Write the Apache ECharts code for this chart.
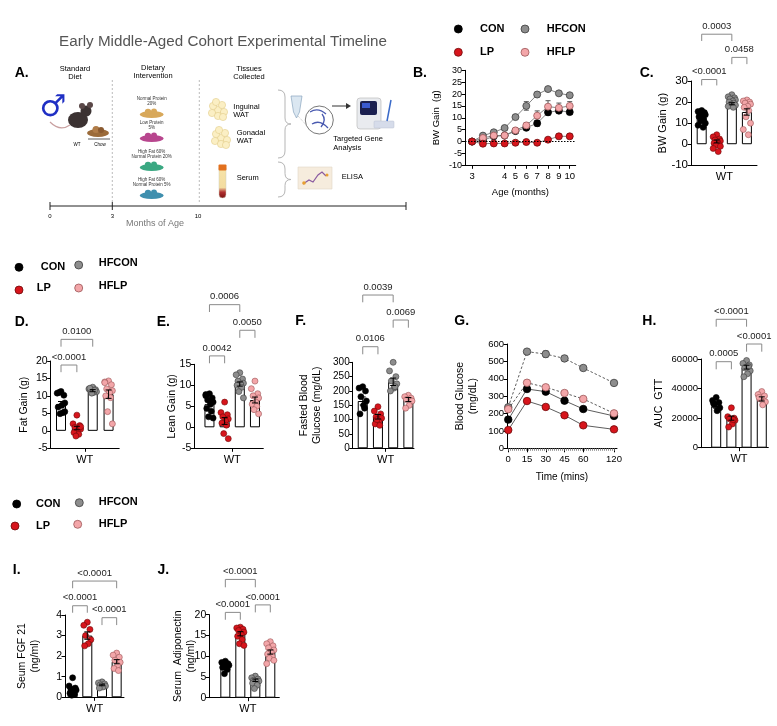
<!DOCTYPE html>
<html><head><meta charset="utf-8">
<script src="https://cdn.jsdelivr.net/npm/echarts@6/dist/echarts.min.js"></script>
<style>html,body{margin:0;padding:0;background:#fff}#c{width:777px;height:726px}</style>
</head><body><div id="c"></div>
<script>
// ---------------- DATA ----------------
const groups = ['CON', 'LP', 'HFCON', 'HFLP'];

// B: body weight gain over age
const bTickLabels = ['3', '', '', '4', '5', '6', '7', '8', '9', '10'];
const bCON   = [0, 0.5, 2.2, 2.5, 4.4, 5.8, 7.7, 12.3, 13.0, 12.4];
const bLP    = [0, -0.9, -0.8, -0.8, -0.5, -0.2, -0.5, 0.8, 2.2, 2.2];
const bHFCON = [0, 2.5, 3.9, 5.7, 10.3, 15.0, 19.8, 22.1, 20.3, 19.5];
const bHFLP  = [0, 1.5, 2.5, 2.6, 4.7, 6.8, 10.9, 14.7, 14.2, 15.0];
const bErrCON   = [0, 0.5, 0.5, 0.5, 0.6, 0.7, 1.2, 1.2, 0.8, 1.0];
const bErrLP    = [0, 0.5, 0.4, 0.4, 0.4, 0.4, 0.5, 0.6, 1.0, 1.0];
const bErrHFCON = [0, 0.5, 0.6, 0.6, 0.9, 1.8, 1.0, 0.7, 0.7, 0.8];
const bErrHFLP  = [0, 0.5, 0.5, 0.6, 0.7, 1.0, 2.0, 2.5, 2.0, 1.8];

// C: BW gain
const cCON   = [16.0, 15.5, 15.0, 14.5, 14.0, 13.5, 13.0, 12.0, 11.0, 10.0, 9.0, 8.0];
const cLP    = [4.5, 3.5, 2.5, 2.0, 1.5, 1.0, 0.5, 0.0, -0.5, -1.0, -2.0, -3.5];
const cHFCON = [23.5, 22.5, 22.0, 21.5, 21.0, 20.5, 20.0, 19.5, 19.0, 18.5, 18.0, 17.5];
const cHFLP  = [21.0, 20.5, 20.0, 19.5, 19.0, 18.0, 17.5, 16.0, 13.0, 10.0, 7.0, 4.5];
const cMean = [12.5, 1.3, 19.2, 15.3];
const cSem  = [0.8, 0.7, 0.5, 1.5];
const cSig  = [[0, 1, 30.7, 27.9], [0, 2, 52.2, 49.0], [2, 3, 41.2, 38.0]];
const cSigLabels = ['<0.0001', '0.0003', '0.0458'];

// D: fat gain
const dCON   = [11.3, 10.8, 10.2, 11.0, 8.0, 7.3, 6.8, 5.2, 4.9, 5.5];
const dLP    = [4.5, 2.0, 1.5, 1.0, 0.5, 0.0, -0.5, -1.0, -1.5, 1.2];
const dHFCON = [12.5, 12.0, 11.8, 11.5, 11.2, 11.0, 12.2, 11.6, 10.8];
const dHFLP  = [14.3, 14.0, 13.2, 12.0, 11.5, 11.0, 10.0, 9.5, 5.5, 2.0, 13.8];
const dMean = [7.6, 0.8, 11.5, 10.5];
const dSem  = [0.8, 0.5, 0.3, 1.2];
const dSig  = [[0, 1, 18.85, 16.8], [0, 2, 26.2, 24.1]];
const dSigLabels = ['<0.0001', '0.0100'];

// E: lean gain
const eCON   = [8.0, 7.5, 7.0, 6.5, 6.0, 5.5, 4.5, 3.8, 2.5, 2.2, 7.8];
const eLP    = [6.0, 3.5, 3.0, 2.5, 2.0, 1.5, 1.0, 0.5, -1.5, -2.7];
const eHFCON = [13.0, 12.5, 11.5, 11.0, 10.5, 10.3, 10.0, 9.5, 8.5, 7.0];
const eHFLP  = [11.0, 9.2, 8.0, 7.5, 7.0, 6.0, 5.5, 5.0, 4.2, 3.2];
const eMean = [5.5, 1.5, 10.3, 6.5];
const eSem  = [0.6, 0.8, 0.5, 0.7];
const eSig  = [[0, 1, 17.0, 15.24], [0, 2, 29.2, 27.45], [2, 3, 23.1, 21.3]];
const eSigLabels = ['0.0042', '0.0006', '0.0050'];

// F: fasted blood glucose
const fCON   = [215, 210, 200, 180, 165, 150, 120, 140];
const fLP    = [145, 130, 120, 110, 105, 95, 85, 80, 100];
const fHFCON = [300, 270, 250, 235, 225, 210, 200, 215];
const fHFLP  = [185, 180, 175, 170, 165, 150, 140];
const fMean = [165, 110, 232, 170];
const fSem  = [14, 8, 13, 7];
const fSig  = [[0, 1, 354.4, 327.9], [0, 2, 534.7, 509.3], [2, 3, 447.5, 420.7]];
const fSigLabels = ['0.0106', '0.0039', '0.0069'];

// G: GTT
const gTimes = [0, 15, 30, 45, 60, 120];
const gCON   = [165, 341, 326, 274, 226, 186];
const gLP    = [105, 272, 238, 190, 132, 109];
const gHFCON = [236, 556, 542, 517, 462, 376];
const gHFLP  = [225, 377, 351, 318, 284, 201];
const gErrCON   = [10, 8, 10, 15, 6, 6];
const gErrLP    = [6, 10, 8, 12, 8, 5];
const gErrHFCON = [12, 10, 18, 15, 10, 12];
const gErrHFLP  = [8, 6, 8, 10, 10, 6];

// H: AUC GTT
const hCON   = [34000, 32000, 30500, 29000, 27000, 25000, 30000];
const hLP    = [27000, 21000, 20000, 19500, 18500, 16000, 14000, 19000];
const hHFCON = [59000, 57000, 56000, 54000, 52000, 50000, 48000, 55000];
const hHFLP  = [38000, 36000, 35000, 33000, 31000, 29000, 34000];
const hMean = [28000, 20000, 54500, 33000];
const hSem  = [1300, 1400, 1300, 1400];
const hSig  = [[0, 1, 58174, 53033], [0, 2, 86853, 81848], [2, 3, 70146, 64938]];
const hSigLabels = ['0.0005', '<0.0001', '<0.0001'];

// I: serum FGF21
const iCON   = [0.95, 0.55, 0.45, 0.4, 0.35, 0.3, 0.2, 0.15, 0.1];
const iLP    = [3.65, 3.5, 3.3, 3.0, 2.8, 2.6, 2.5];
const iHFCON = [0.75, 0.7, 0.65, 0.6, 0.55, 0.5, 0.45];
const iHFLP  = [2.15, 2.05, 1.95, 1.8, 1.7, 1.55, 1.4, 1.3];
const iMean = [0.36, 3.0, 0.6, 1.73];
const iSem  = [0.08, 0.18, 0.04, 0.1];
const iSig  = [[0, 1, 4.45, 4.11], [0, 3, 5.65, 5.30], [2, 3, 3.87, 3.51]];
const iSigLabels = ['<0.0001', '<0.0001', '<0.0001'];

// J: serum adiponectin
const jCON   = [8.8, 8.5, 8.2, 8.0, 7.8, 7.6, 7.3, 6.8, 5.8];
const jLP    = [17.0, 16.8, 16.5, 16.2, 15.8, 15.3, 14.8, 14.0, 13.0, 12.6];
const jHFCON = [5.2, 4.8, 4.5, 4.2, 4.0, 3.8, 3.5, 3.0, 2.2];
const jHFLP  = [13.5, 13.0, 12.5, 12.0, 11.5, 11.0, 10.5, 10.0, 9.5, 9.0, 8.2];
const jMean = [7.9, 15.4, 4.2, 11.0];
const jSem  = [0.3, 0.5, 0.3, 0.5];
const jSig  = [[0, 1, 20.56, 18.78], [0, 2, 28.5, 26.6], [2, 3, 22.36, 20.56]];
const jSigLabels = ['<0.0001', '<0.0001', '<0.0001'];

// ---------------- STYLE / BUILD ----------------
const FF = "'Liberation Sans', Arial, Helvetica, sans-serif";
const fillC = ['#000000', '#d7151c', '#8d8d8d', '#f3a6a9'];
const strokeC = ['#000000', '#6e0a0a', '#3c3c3c', '#9a5557'];

const grids = [], xAxes = [], yAxes = [], series = [];

function addGrid(l, t, w, h) { grids.push({left: l, top: t, width: w, height: h}); return grids.length - 1; }

function yAx(gi, min, max, interval, name, gap, fs, nfs) {
  yAxes.push({type: 'value', gridIndex: gi, min, max, interval, name, nameLocation: 'middle', nameGap: gap,
    nameMoveOverlap: false,
    nameTextStyle: {fontFamily: FF, fontSize: nfs || 10.5, color: '#000', lineHeight: 13},
    axisLine: {show: true, onZero: false, lineStyle: {color: '#000', width: 1}},
    axisTick: {show: true, length: 3.5, lineStyle: {color: '#000', width: 1}},
    axisLabel: {fontFamily: FF, fontSize: fs, color: '#000', margin: 3, formatter: v => String(v)},
    splitLine: {show: false}});
}
function xBar(gi, min, max) {
  xAxes.push({type: 'value', gridIndex: gi, min, max,
    axisLine: {onZero: false, lineStyle: {color: '#000', width: 1}},
    axisTick: {customValues: [1.5], length: 3.5, lineStyle: {color: '#000'}},
    axisLabel: {customValues: [1.5], formatter: () => 'WT', fontFamily: FF, fontSize: 11, color: '#000', margin: 6},
    splitLine: {show: false}});
}

function errRender(color, cap) {
  return function (params, api) {
    const x = api.value(0);
    const lo = api.coord([x, api.value(1)]), hi = api.coord([x, api.value(2)]);
    const st = {stroke: color, lineWidth: 1};
    return {type: 'group', children: [
      {type: 'line', shape: {x1: lo[0], y1: lo[1], x2: hi[0], y2: hi[1]}, style: st},
      {type: 'line', shape: {x1: lo[0] - cap, y1: lo[1], x2: lo[0] + cap, y2: lo[1]}, style: st},
      {type: 'line', shape: {x1: hi[0] - cap, y1: hi[1], x2: hi[0] + cap, y2: hi[1]}, style: st}
    ]};
  };
}
function sigRender(labels) {
  return function (params, api) {
    const a = api.coord([api.value(0), api.value(2)]);
    const b = api.coord([api.value(1), api.value(2)]);
    const a2 = api.coord([api.value(0), api.value(3)]);
    const b2 = api.coord([api.value(1), api.value(3)]);
    return {type: 'group', children: [
      {type: 'polyline', shape: {points: [a2, a, b, b2]}, style: {stroke: '#8a8a8a', lineWidth: 1, fill: null}},
      {type: 'text', style: {text: labels[params.dataIndex], x: (a[0] + b[0]) / 2, y: a[1] - 3,
        align: 'center', verticalAlign: 'bottom', fontSize: 9.5, fontFamily: FF, fill: '#222'}}
    ]};
  };
}
// deterministic horizontal spread of dots inside each group (layout only)
const spreadPattern = [0, -2, 1.5, -1, 2, 0.5, -1.5, 1, -0.5, 2, -2, 0.8];
function jitter(i) { return spreadPattern[i % spreadPattern.length] * 0.12; }

function barPanel(gi, means, sems, pts, sig, sigLabels) {
  series.push({type: 'bar', xAxisIndex: gi, yAxisIndex: gi, barWidth: 10, silent: true, z: 1,
    data: means.map((m, i) => [i, m]),
    itemStyle: {color: '#fff', borderColor: '#000', borderWidth: 1}});
  pts.forEach((arr, k) => series.push({type: 'scatter', xAxisIndex: gi, yAxisIndex: gi, z: 2, silent: true,
    symbolSize: 6, data: arr.map((v, i) => [k + jitter(i), v]),
    itemStyle: {color: fillC[k], borderColor: strokeC[k], borderWidth: 0.6, opacity: 1}}));
  series.push({type: 'custom', xAxisIndex: gi, yAxisIndex: gi, z: 3, silent: true, clip: false,
    data: means.map((m, i) => [i, m - sems[i], m + sems[i]]), encode: {x: 0, y: [1, 2]},
    renderItem: errRender('#000', 3)});
  series.push({type: 'custom', xAxisIndex: gi, yAxisIndex: gi, z: 3, silent: true, clip: false,
    data: sig, encode: {x: [0, 1], y: [2, 3]}, renderItem: sigRender(sigLabels)});
}

function linePanel(gi, xs, sets, errs, dashed, size, lineCol) {
  sets.forEach((arr, k) => {
    series.push({type: 'line', xAxisIndex: gi, yAxisIndex: gi, silent: true, clip: false, z: 2 + (k === 1 ? 1 : 0),
      data: arr.map((v, i) => [xs[i], v]), symbol: 'circle', symbolSize: size,
      lineStyle: {color: lineCol, width: 0.8, type: dashed[k] ? [2.5, 2] : 'solid'},
      itemStyle: {color: fillC[k], borderColor: strokeC[k], borderWidth: 0.8}});
    series.push({type: 'custom', xAxisIndex: gi, yAxisIndex: gi, z: 1, silent: true, clip: false,
      data: arr.map((v, i) => [xs[i], v - errs[k][i], v + errs[k][i]]), encode: {x: 0, y: [1, 2]},
      renderItem: errRender(k === 0 ? '#000' : '#555', 2.5)});
  });
}

// ---- Panel B ----
let g = addGrid(465, 70.3, 110.7, 95);
xAxes.push({type: 'value', gridIndex: g, min: -0.65, max: 9.55, name: 'Age (months)', nameLocation: 'middle', nameGap: 22,
  nameMoveOverlap: false,
  nameTextStyle: {fontFamily: FF, fontSize: 9.5, color: '#000'},
  axisLine: {onZero: false, lineStyle: {color: '#000'}},
  axisTick: {customValues: [0, 3, 4, 5, 6, 7, 8, 9], length: 3.5, lineStyle: {color: '#000'}},
  axisLabel: {customValues: [0, 3, 4, 5, 6, 7, 8, 9], formatter: v => bTickLabels[Math.round(v)], fontFamily: FF, fontSize: 9.5, color: '#000', margin: 6},
  splitLine: {show: false}});
yAx(g, -10, 30, 5, 'BW Gain  (g)', 22, 9, 9.5);
const bIdx = bCON.map((v, i) => i);
linePanel(g, bIdx, [bCON, bLP, bHFCON, bHFLP], [bErrCON, bErrLP, bErrHFCON, bErrHFLP], [false, false, false, false], 7, '#666');
series.push({type: 'line', xAxisIndex: g, yAxisIndex: g, data: [], silent: true,
  markLine: {silent: true, symbol: 'none', label: {show: false}, data: [{yAxis: 0}],
    lineStyle: {color: '#000', type: [1.5, 1.5], width: 1}}});

// ---- Panel C ----
g = addGrid(691, 81, 66, 84.3);
xBar(g, -0.71, 3.67);
yAx(g, -10, 30, 10, 'BW Gain (g)', 22, 11.5, 11);
barPanel(g, cMean, cSem, [cCON, cLP, cHFCON, cHFLP], cSig, cSigLabels);

// ---- Panel D ----
g = addGrid(50.7, 361, 68.5, 87.3);
xBar(g, -0.65, 3.67);
yAx(g, -5, 20, 5, 'Fat Gain (g)', 20, 10.5);
barPanel(g, dMean, dSem, [dCON, dLP, dHFCON, dHFLP], dSig, dSigLabels);

// ---- Panel E ----
g = addGrid(194.3, 364.3, 69, 84);
xBar(g, -1.0, 3.55);
yAx(g, -5, 15, 5, 'Lean Gain (g)', 16, 10.5);
barPanel(g, eMean, eSem, [eCON, eLP, eHFCON, eHFLP], eSig, eSigLabels);

// ---- Panel F ----
g = addGrid(352.7, 362.3, 61.3, 86);
xBar(g, -0.66, 3.37);
yAx(g, 0, 300, 50, 'Fasted Blood\nGlucose (mg/dL)', 29, 10, 10.5);
barPanel(g, fMean, fSem, [fCON, fLP, fHFCON, fHFLP], fSig, fSigLabels);

// ---- Panel G ----
const gpos = t => (t <= 60 ? t : 60 + (t - 60) * 0.41);
const gInv = p => (p <= 60 ? Math.round(p) : Math.round(60 + (p - 60) / 0.41));
g = addGrid(507, 344, 110, 104.3);
const gTickPos = gTimes.map(gpos);
xAxes.push({type: 'value', gridIndex: g, min: -1, max: 87, name: 'Time (mins)', nameLocation: 'middle', nameGap: 24,
  nameMoveOverlap: false,
  nameTextStyle: {fontFamily: FF, fontSize: 10, color: '#000'},
  axisLine: {onZero: false, lineStyle: {color: '#000'}},
  axisTick: {customValues: gTickPos, length: 4, lineStyle: {color: '#000'}},
  axisLabel: {customValues: gTickPos, formatter: v => String(gInv(v)), fontFamily: FF, fontSize: 9.5, color: '#000', margin: 6},
  splitLine: {show: false}});
const gMinor = [];
for (let p = 0; p <= 85; p += 1.6) gMinor.push(p);
xAxes.push({type: 'value', gridIndex: g, min: -1, max: 87, position: 'bottom',
  axisLine: {show: false, onZero: false}, axisLabel: {show: false}, splitLine: {show: false},
  axisTick: {show: true, customValues: gMinor, length: 2.5, lineStyle: {color: '#777', width: 0.8}}});
yAx(g, 0, 600, 100, 'Blood Glucose\n(mg/dL)', 27, 9.5, 10.5);
linePanel(g, gTimes.map(gpos), [gCON, gLP, gHFCON, gHFLP], [gErrCON, gErrLP, gErrHFCON, gErrHFLP], [false, false, true, true], 7.5, '#333');

// ---- Panel H ----
g = addGrid(701, 359, 67.3, 88.7);
xBar(g, -1.0, 3.43);
yAx(g, 0, 60000, 20000, 'AUC  GTT', 35, 9.5);
barPanel(g, hMean, hSem, [hCON, hLP, hHFCON, hHFLP], hSig, hSigLabels);

// ---- Panel I ----
g = addGrid(65, 615, 59, 82.3);
xBar(g, -0.52, 3.5);
yAx(g, 0, 4, 1, 'Seum FGF 21\n(ng/ml)', 23, 10.5);
barPanel(g, iMean, iSem, [iCON, iLP, iHFCON, iHFLP], iSig, iSigLabels);

// ---- Panel J ----
g = addGrid(209.3, 614.7, 70, 83);
xBar(g, -1.07, 3.6);
yAx(g, 0, 20, 5, 'Serum  Adiponectin\n(ng/ml)', 12, 10.5);
barPanel(g, jMean, jSem, [jCON, jLP, jHFCON, jHFLP], jSig, jSigLabels);

// xAxes: B0 C1 D2 E3 F4 G5 Gminor6 H7 I8 J9 ; yAxes: B0..J8
const xMap = [0, 1, 2, 3, 4, 5, 7, 8, 9];
series.forEach(s => { if (s.xAxisIndex !== undefined) s.xAxisIndex = xMap[s.xAxisIndex]; });

// ---------------- GRAPHICS (legends, labels, panel A) ----------------
const gr = [];
function txt(x, y, t, fs, opt) {
  gr.push({type: 'text', x, y, silent: true,
    style: Object.assign({text: t, fontFamily: FF, fontSize: fs, fill: '#000', align: 'center', verticalAlign: 'middle'}, opt || {})});
}
function dot(x, y, k, r) {
  gr.push({type: 'circle', silent: true, shape: {cx: x, cy: y, r: r || 4}, style: {fill: fillC[k], stroke: strokeC[k], lineWidth: 0.8}});
}
function circ(cx, cy, r, style) { gr.push({type: 'circle', silent: true, shape: {cx, cy, r}, style}); }
function ell(cx, cy, rx, ry, fill) {
  gr.push({type: 'circle', silent: true, x: cx, y: cy, scaleY: ry / rx, shape: {cx: 0, cy: 0, r: rx}, style: {fill}});
}
function qc(x1, y1, cx, cy, x2, y2, stroke, w) {
  gr.push({type: 'bezierCurve', silent: true, shape: {x1, y1, cpx1: cx, cpy1: cy, x2, y2}, style: {stroke, lineWidth: w, fill: null}});
}
function ln(x1, y1, x2, y2, stroke, w, dash) {
  gr.push({type: 'line', silent: true, shape: {x1, y1, x2, y2}, style: {stroke, lineWidth: w, lineDash: dash || null}});
}
function legend(items) {
  items.forEach(([dx, dy, tx, ty, k]) => { dot(dx, dy, k); txt(tx, ty, groups[k], 11, {align: 'left', fontWeight: 'bold'}); });
}
legend([[458.3, 29, 480, 29, 0], [525, 29, 546.7, 29, 2], [458.3, 52.3, 480, 52.3, 1], [525, 52.3, 546.7, 52.3, 3]]);
legend([[19, 267.3, 40.7, 267.3, 0], [78.7, 265, 98.7, 263, 2], [19, 290, 36.7, 288, 1], [78.7, 288, 98.7, 286, 3]]);
legend([[16.7, 504, 36, 504, 0], [79.3, 502.7, 98.7, 502, 2], [15, 526, 36, 526, 1], [77.7, 524.3, 98.7, 524, 3]]);

[['A.', 21.7, 73.3], ['B.', 420, 73], ['C.', 646.7, 73], ['D.', 21.7, 321.7], ['E.', 163.3, 321.7],
 ['F.', 300.7, 320.7], ['G.', 461.7, 320.7], ['H.', 649.3, 320.7], ['I.', 16.7, 570], ['J.', 163.3, 570]]
  .forEach(([t, x, y]) => txt(x, y, t, 14, {fontWeight: 'bold'}));

// Panel A illustration
txt(223, 42, 'Early Middle-Aged Cohort Experimental Timeline', 15.2, {fill: '#555'});
txt(75, 73, 'Standard\nDiet', 7.5, {lineHeight: 8});
txt(153, 72, 'Dietary\nIntervention', 7.5, {lineHeight: 8});
txt(249, 73, 'Tissues\nCollected', 7.5, {lineHeight: 8});
[112.3, 199.3].forEach(x => ln(x, 80, x, 204, '#aaa', 0.8, [2, 2]));
ln(50, 206, 406, 206, '#222', 1);
[50, 112.3, 406].forEach(x => ln(x, 202, x, 210, '#222', 1));
txt(50, 216, '0', 6); txt(112.3, 216, '3', 6); txt(198, 216, '10', 6);
txt(155, 223.5, 'Months of Age', 9, {fill: '#777'});
// male symbol + mouse + chow
txt(53, 108, '\u2642', 30, {fill: '#1f2fc4', fontFamily: "'DejaVu Sans', sans-serif", fontWeight: 'bold'});
qc(70, 125, 60, 132, 50, 122, '#c9a0a0', 1.2);
ell(78, 120, 10, 8, '#3b3232');
circ(86, 111, 5.5, {fill: '#3b3232'});
circ(82, 106, 3, {fill: '#5a4848'});
circ(90, 105, 3, {fill: '#5a4848'});
ell(98, 133, 11, 4, '#9b6b3a');
circ(96, 129.5, 3.5, {fill: '#b07c48'});
circ(101, 130, 3, {fill: '#8a5a30'});
ln(88, 139, 110, 139, '#333', 0.8);
txt(77, 145, 'WT', 4.5); txt(100, 145, 'Chow', 4.5);
// diets
const dietCol = ['#d8a85a', '#b8468e', '#3aa882', '#3f8fae'];
const dietTxt = ['Normal Protein\n20%', 'Low Protein\n5%', 'High Fat 60%\nNormal Protein 20%', 'High Fat 60%\nNormal Protein 5%'];
const dietY = [101.5, 125.5, 154.5, 182.5];
dietTxt.forEach((t, i) => {
  txt(151.7, dietY[i], t, 4.5, {lineHeight: 5.5, fill: '#333'});
  const cy = dietY[i] + 13;
  ell(151.7, cy, 12, 3.5, dietCol[i]);
  circ(148, cy - 2.5, 3.2, {fill: dietCol[i]});
  circ(154, cy - 3, 3, {fill: dietCol[i]});
});
// tissues
function fat(cx, cy) {
  [[0, 0], [-5, -4], [4, -5], [6, 2], [-6, 3], [0, 6], [-2, -8], [5, 7]].forEach(([dx, dy]) =>
    circ(cx + dx, cy + dy, 3.6, {fill: '#fbefc4', stroke: '#e3cc8a', lineWidth: 0.6}));
}
fat(218, 110); fat(221, 138);
txt(233.3, 110.7, 'Inguinal\nWAT', 7.5, {align: 'left', lineHeight: 8});
txt(236.7, 137.3, 'Gonadal\nWAT', 7.5, {align: 'left', lineHeight: 8});
txt(236.7, 178.3, 'Serum', 7.5, {align: 'left'});
gr.push({type: 'rect', silent: true, shape: {x: 219, y: 168, width: 7, height: 30, r: [0, 0, 3.5, 3.5]},
  style: {fill: new echarts.graphic.LinearGradient(0, 0, 0, 1, [{offset: 0, color: '#f6e3a8'}, {offset: 0.65, color: '#f3dca0'}, {offset: 0.8, color: '#b03030'}, {offset: 1, color: '#7a1010'}]), stroke: '#ccb', lineWidth: 0.5}});
gr.push({type: 'rect', silent: true, shape: {x: 218.5, y: 164.5, width: 8, height: 6, r: 1}, style: {fill: '#e2701e'}});
// braces
function brace(x, y1, y2) {
  const m = (y1 + y2) / 2, c = '#b5b5b5';
  qc(x, y1, x + 7, y1, x + 7, y1 + 7, c, 1);
  ln(x + 7, y1 + 7, x + 7, m - 6, c, 1);
  qc(x + 7, m - 6, x + 7, m, x + 13, m, c, 1);
  qc(x + 13, m, x + 7, m, x + 7, m + 6, c, 1);
  ln(x + 7, m + 6, x + 7, y2 - 7, c, 1);
  qc(x + 7, y2 - 7, x + 7, y2, x, y2, c, 1);
}
brace(278, 90, 158); brace(278, 162, 197);
// gene analysis icons
gr.push({type: 'polygon', silent: true, shape: {points: [[291, 96], [302, 96], [299.5, 112], [296.5, 118], [293.5, 112]]}, style: {fill: '#dbe7f1', stroke: '#8aa5bf', lineWidth: 0.7}});
ln(298, 116, 309, 128, '#999', 0.6, [1, 1]);
circ(319.3, 120, 14, {fill: '#fff', stroke: '#555', lineWidth: 0.8});
qc(310, 112, 318, 107, 326, 114, '#4a5ab0', 1.3);
qc(312, 124, 320, 119, 328, 128, '#4a5ab0', 1.3);
qc(322, 114, 327, 120, 321, 127, '#4a5ab0', 1.3);
ln(332, 106, 346, 106, '#333', 1);
gr.push({type: 'polygon', silent: true, shape: {points: [[346, 103], [351, 106], [346, 109]]}, style: {fill: '#333'}});
gr.push({type: 'rect', silent: true, shape: {x: 357, y: 98, width: 24, height: 31, r: 3}, style: {fill: '#e9ebef', stroke: '#bbb', lineWidth: 0.7}});
gr.push({type: 'rect', silent: true, shape: {x: 360, y: 101, width: 17, height: 14, r: 2}, style: {fill: '#1b2050'}});
gr.push({type: 'rect', silent: true, shape: {x: 362, y: 103, width: 8, height: 5}, style: {fill: '#3a5ad0'}});
gr.push({type: 'rect', silent: true, shape: {x: 374, y: 121, width: 20, height: 7, r: 1}, style: {fill: '#d6dcea', stroke: '#b8c0d0', lineWidth: 0.5}});
ln(391, 100, 387, 121, '#3a6ac8', 1.5);
txt(333.3, 143.3, 'Targeted Gene\nAnalysis', 7.5, {align: 'left', lineHeight: 8.5});
gr.push({type: 'rect', silent: true, shape: {x: 298, y: 167, width: 34, height: 22}, style: {fill: '#f6ecdd', stroke: '#e0d6c6', lineWidth: 0.6}});
gr.push({type: 'polyline', silent: true, shape: {points: [[303, 184], [309, 180], [313, 182], [318, 175], [322, 172], [326, 176]]}, style: {stroke: '#8a5aa0', lineWidth: 1.2, fill: null}});
circ(304, 183, 1.8, {fill: '#e8a030'});
circ(327, 175, 1.5, {fill: '#e8a030'});
txt(341.7, 176.7, 'ELISA', 7.5, {align: 'left'});

const chart = echarts.init(document.getElementById('c'), null, {renderer: 'canvas'});
chart.setOption({
  animation: false,
  backgroundColor: '#fff',
  textStyle: {fontFamily: FF},
  grid: grids, xAxis: xAxes, yAxis: yAxes, series, graphic: gr
});
</script></body></html>
